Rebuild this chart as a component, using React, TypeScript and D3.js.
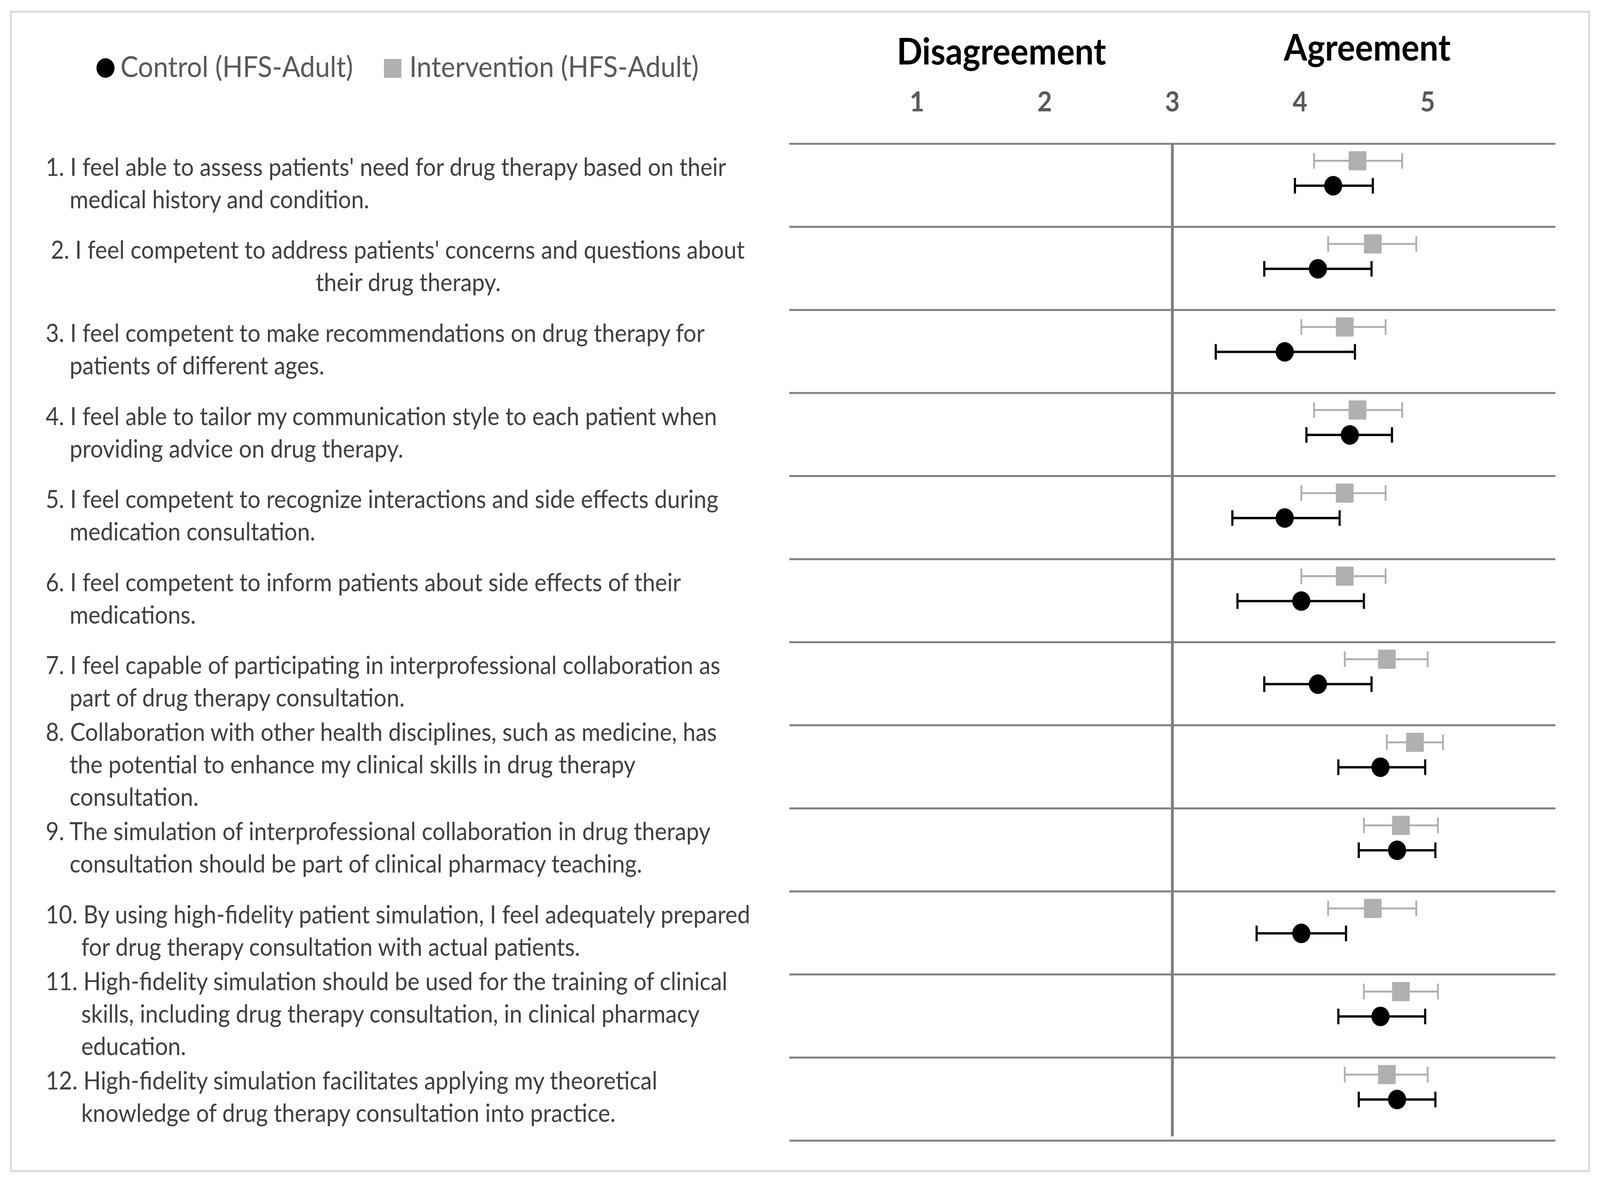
import * as d3 from "d3";

// item labels, each entry is the wrapped lines of one statement
const questionLines: string[][] = [
  ["1. I feel able to assess patients' need for drug therapy based on their", "medical history and condition."],
  ["2. I feel competent to address patients' concerns and questions about", "their drug therapy."],
  ["3. I feel competent to make recommendations on drug therapy for", "patients of different ages."],
  ["4. I feel able to tailor my communication style to each patient when", "providing advice on drug therapy."],
  ["5. I feel competent to recognize interactions and side effects during", "medication consultation."],
  ["6. I feel competent to inform patients about side effects of their", "medications."],
  ["7. I feel capable of participating in interprofessional collaboration as", "part of drug therapy consultation."],
  ["8. Collaboration with other health disciplines, such as medicine, has", "the potential to enhance my clinical skills in drug therapy", "consultation."],
  ["9. The simulation of interprofessional collaboration in drug therapy", "consultation should be part of clinical pharmacy teaching."],
  ["10. By using high-fidelity patient simulation, I feel adequately prepared", "for drug therapy consultation with actual patients."],
  ["11. High-fidelity simulation should be used for the training of clinical", "skills, including drug therapy consultation, in clinical pharmacy", "education."],
  ["12. High-fidelity simulation facilitates applying my theoretical", "knowledge of drug therapy consultation into practice."],
];
const items = questionLines.map((_, i) => `Q${i + 1}`);

const controlMean = [4.26, 4.14, 3.88, 4.39, 3.88, 4.01, 4.14, 4.63, 4.76, 4.01, 4.63, 4.76];
const controlLow = [3.96, 3.72, 3.34, 4.05, 3.47, 3.51, 3.72, 4.3, 4.46, 3.66, 4.3, 4.46];
const controlHigh = [4.57, 4.56, 4.43, 4.72, 4.31, 4.5, 4.56, 4.98, 5.06, 4.36, 4.98, 5.06];

const interventionMean = [4.45, 4.57, 4.35, 4.45, 4.35, 4.35, 4.68, 4.9, 4.79, 4.57, 4.79, 4.68];
const interventionLow = [4.11, 4.22, 4.01, 4.11, 4.01, 4.01, 4.35, 4.68, 4.5, 4.22, 4.5, 4.35];
const interventionHigh = [4.8, 4.91, 4.67, 4.8, 4.67, 4.67, 5.0, 5.12, 5.08, 4.91, 5.08, 5.0];

const ticks = [1, 2, 3, 4, 5];

const W = 4413;
const H = 3030;
const FONT = "Lato, 'Open Sans', sans-serif";
const GRID = "#808080";
const GREY = "#b0b0b0";

export default function App() {
  const x = d3.scaleLinear().domain([0, 6]).range([2177, 4290]);
  const y = d3.scaleBand().domain(items).range([368, 2919]).padding(0);
  const bw = y.bandwidth();
  const lineGap = 83;

  const rowLines = items.map((it) => y(it)!).concat([y.range()[1]]);

  return (
    <svg
      viewBox={`0 0 ${W} ${H}`}
      preserveAspectRatio="none"
      style={{ position: "fixed", left: 0, top: 0, width: "100vw", height: "100vh", background: "#fff" }}
      fontFamily={FONT}
    >
      <rect x={0} y={0} width={W} height={H} fill="#fff" />
      <rect x={30} y={30} width={4353} height={2967} fill="none" stroke="#d9d9d9" strokeWidth={5} />

      {/* legend */}
      <circle cx={291} cy={174} r={25} fill="#000" />
      <text x={332} y={197} fontSize={74} fill="#595959">Control (HFS-Adult)</text>
      <rect x={1059} y={151} width={48} height={48} fill={GREY} />
      <text x={1129} y={197} fontSize={74} fill="#595959">Intervention (HFS-Adult)</text>

      {/* titles */}
      <text x={2762} y={165} fontSize={93} fontWeight={700} textAnchor="middle" fill="#000">Disagreement</text>
      <text x={3771} y={155} fontSize={93} fontWeight={700} textAnchor="middle" fill="#000">Agreement</text>

      {ticks.map((t) => (
        <text key={t} x={x(t)} y={285} fontSize={70} fontWeight={700} textAnchor="middle" fill="#595959">
          {t}
        </text>
      ))}

      {/* grid */}
      {rowLines.map((ly, i) => (
        <line key={i} x1={x(0)} x2={x(6)} y1={ly} y2={ly} stroke={GRID} strokeWidth={5} />
      ))}
      <line x1={x(3)} x2={x(3)} y1={366} y2={2908} stroke={GRID} strokeWidth={8} />

      {/* question text */}
      {questionLines.map((lines, i) => {
        const cy = y(items[i])! + bw / 2 + 17;
        const first = cy - ((lines.length - 1) / 2) * lineGap;
        const indent = i >= 9 ? 224 : 192;
        return (
          <g key={i} fontSize={63} fill="#404040">
            {lines.map((ln, j) => {
              if (i === 1) {
                return j === 0 ? (
                  <text key={j} x={140} y={first + j * lineGap}>{ln}</text>
                ) : (
                  <text key={j} x={1126} y={first + j * lineGap} textAnchor="middle">{ln}</text>
                );
              }
              return (
                <text key={j} x={j === 0 ? 126 : indent} y={first + j * lineGap}>
                  {ln}
                </text>
              );
            })}
          </g>
        );
      })}

      {/* intervention markers */}
      {items.map((it, i) => {
        const cy = y(it)! + bw * 0.205;
        return (
          <g key={"int" + i} stroke={GREY} strokeWidth={5}>
            <line x1={x(interventionLow[i])} x2={x(interventionHigh[i])} y1={cy} y2={cy} />
            <line x1={x(interventionLow[i])} x2={x(interventionLow[i])} y1={cy - 20} y2={cy + 20} />
            <line x1={x(interventionHigh[i])} x2={x(interventionHigh[i])} y1={cy - 20} y2={cy + 20} />
            <rect x={x(interventionMean[i]) - 24.5} y={cy - 24.5} width={49} height={49} rx={3} fill={GREY} stroke="none" />
          </g>
        );
      })}

      {/* control markers */}
      {items.map((it, i) => {
        const cy = y(it)! + bw * 0.505;
        return (
          <g key={"ctl" + i} stroke="#000" strokeWidth={6}>
            <line x1={x(controlLow[i])} x2={x(controlHigh[i])} y1={cy} y2={cy} />
            <line x1={x(controlLow[i])} x2={x(controlLow[i])} y1={cy - 20} y2={cy + 20} />
            <line x1={x(controlHigh[i])} x2={x(controlHigh[i])} y1={cy - 20} y2={cy + 20} />
            <circle cx={x(controlMean[i])} cy={cy} r={25} fill="#000" stroke="none" />
          </g>
        );
      })}
    </svg>
  );
}
